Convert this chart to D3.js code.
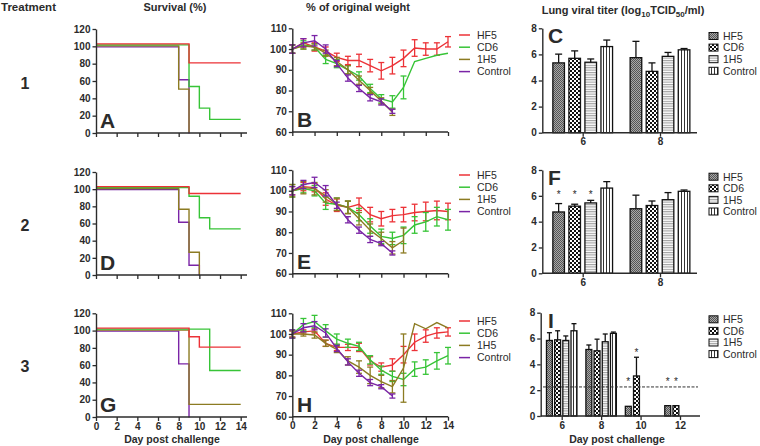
<!DOCTYPE html>
<html><head><meta charset="utf-8">
<script src="https://cdn.jsdelivr.net/npm/d3@7"></script>
<style>body{margin:0;background:#fff}svg{font-family:"Liberation Sans",Arial,sans-serif}</style>
</head><body>
<svg id="c" width="760" height="446"></svg>
<script>
// ---------------- DATA ----------------
const groups = ["HF5", "CD6", "1H5", "Control"];
const colors = ["#ec3237", "#37c437", "#8c7b22", "#7a24a6"];
const dayTicks = [0, 2, 4, 6, 8, 10, 12, 14];
const survTicks = [0, 20, 40, 60, 80, 100, 120];
const weightTicks = [60, 70, 80, 90, 100, 110];
const titerTicks = [0, 2, 4, 6, 8];

// Survival (%) step points [day, %] per group (HF5, CD6, 1H5, Control)
const survA = [
  [[0,100],[9,78],[14,78]],
  [[0,100],[9,52],[10,27],[11,14],[14,14]],
  [[0,100],[8,50],[9,0]],
  [[0,100],[8,62],[9,0]]
];
const survD = [
  [[0,100],[9,92],[14,92]],
  [[0,100],[9,90],[10,65],[11,52],[14,52]],
  [[0,100],[8,76],[9,26],[10,0]],
  [[0,100],[8,62],[9,12],[10,0]]
];
const survG = [
  [[0,100],[9,90],[10,78],[14,78]],
  [[0,100],[11,52],[14,52]],
  [[0,100],[9,14],[14,14]],
  [[0,100],[8,62],[9,0]]
];

// % of original weight, mean per day (index = day) and SD
const weightB = [
  [100,103,101,99,96,94.5,94.5,92,89.5,92,95.5,100.5,100,100,103.5],
  [100,102,101,95,93,90,87,81,76,74.5,81.5,94,95.5,97,98],
  [100,101.5,101,98,94,90,85,80,75,69.5],
  [100,103,104,100,93,86,81,76.5,74.5,70]
];
const weightB_sd = [
  [2,2,2,2,2,2,3,3,4,4,4,4,3,3,2.5],
  [2,2,1.5,2,2,2,2,2,2,3,5.5,0,0,0,0],
  [2,1.5,1.5,1.5,2,2,2,1.5,1.5,1.5],
  [2,2,2.5,2,1.5,1.5,1.5,1.5,1.5,1]
];
const weightE = [
  [100,102,101.5,96,93,92,93.5,88.5,86.5,88,88.5,89.5,90,90.5,90],
  [100,101,100,94,93.5,92,88.5,83,78,77,78.5,83.5,85,87.5,86],
  [100,101.5,101,97.5,93.5,92,86.5,81,77,72.5,76],
  [100,103,104,100,93,86,81,76.5,74.5,70]
];
const weightE_sd = [
  [2,2,2,3,3,3,3,3.5,3.5,3,3.5,4,4.5,4.5,4],
  [3,2,2.5,3,3,3,3,3.5,3.5,3,4,4,4.5,4.5,5],
  [3,3,3,3,3,3,3,3,3,3,6],
  [2,2,2.5,2.5,1.5,1.5,1.5,1.5,1,1]
];
const weightH = [
  [100,101,101.5,95.5,93.5,93.5,93.5,87,84,85,90,96,99,100.5,101],
  [100,104.5,106,101.5,97.5,95.5,94,87.5,82.5,79.5,78,83,84,87,89.5],
  [100,100,99.5,95.5,92.5,87,84,80,77,74.5,83.5,105,102.5,105.5,103],
  [100,103,104,100.5,93,86.5,81,76.5,74.5,70]
];
const weightH_sd = [
  [1.5,1,1,1.5,1.5,1.5,2,2,2,3,4,4,3,2.5,2],
  [2,3,3,3,2.5,2,2,2,2,2.5,3,3.5,3.5,4,4],
  [1.5,1,1.5,1.5,1.5,2,3,4,3,3,16.5,0,0,0,0],
  [2,2,2,2,1.5,1.5,1.5,1.5,1,1]
];

// Lung viral titer (log10 TCID50/ml): per group, per sampled day
const titerDaysCF = [6, 8];
const titerC = [[5.35,5.75],[5.7,4.7],[5.4,5.85],[6.6,6.35]];
const titerC_sd = [[0.67,1.25],[0.57,0.65],[0.25,0.3],[0.5,0.1]];
const titerF = [[4.75,5.0],[5.2,5.25],[5.45,5.7],[6.6,6.35]];
const titerF_sd = [[0.65,1.05],[0.15,0.35],[0.2,0.55],[0.5,0.1]];
const titerDaysI = [6, 8, 10, 12];
const titerI = [[5.85,5.15,0.75,0.8],[5.9,5.05,3.1,0.8],[5.85,5.75,null,null],[6.6,6.4,null,null]];
const titerI_sd = [[0.6,0.35,0,0],[0.7,0.9,1.45,0],[0.35,0.6,0,0],[0.55,0.1,0,0]];
const titerTicksI = [6, 8, 10, 12];
const starsF = [[6,0,6.2],[6,1,6.2],[6,2,6.2]];          // [day, group, y]
const starsI = [[10,0,2.75],[10,1,5.05],[12,0,2.75],[12,1,2.75]];
const detectionLimit = 2.25;

// ---------------- DRAWING ----------------
const svg = d3.select("#c");
const ink = "#2b2b2b";
const txt = (s, x, y, size, opts = {}) => svg.append("text").attr("x", x).attr("y", y)
  .attr("font-size", size).attr("font-weight", opts.w || "bold").attr("fill", opts.fill || ink)
  .attr("text-anchor", opts.a || "start").text(s);

// headers
txt("Treatment", 1, 11, 11.5);
txt("Survival (%)", 175, 11, 11, {a: "middle"});
txt("% of original weight", 358, 11, 11, {a: "middle"});
const lt = svg.append("text").attr("x", 623).attr("y", 14).attr("font-size", 11)
  .attr("font-weight", "bold").attr("fill", ink).attr("text-anchor", "middle");
lt.append("tspan").text("Lung viral titer (log");
lt.append("tspan").attr("font-size", 8).attr("dy", 3).text("10");
lt.append("tspan").attr("dy", -3).text("TCID");
lt.append("tspan").attr("font-size", 8).attr("dy", 3).text("50");
lt.append("tspan").attr("dy", -3).text("/ml)");
[["1", 89], ["2", 231], ["3", 372]].forEach(([s, y]) => txt(s, 25, y, 16, {a: "middle"}));

function styleAxis(g) {
  g.selectAll("path.domain").attr("stroke", ink).attr("stroke-width", 1.4);
  g.selectAll(".tick line").attr("stroke", ink).attr("stroke-width", 1.3);
  g.selectAll(".tick text").attr("font-size", 10).attr("font-weight", "bold")
    .attr("fill", ink).attr("font-family", "Liberation Sans, Arial, sans-serif");
}
function yAxis(y, x0, ticks) {
  const g = svg.append("g").attr("transform", `translate(${x0},0)`)
    .call(d3.axisLeft(y).tickValues(ticks).tickSize(3.5).tickPadding(2).tickSizeOuter(0));
  styleAxis(g);
}
function xAxis(x, y0, ticks, labels, xStart, xEnd) {
  const g = svg.append("g").attr("transform", `translate(0,${y0})`)
    .call(d3.axisBottom(x).tickValues(ticks).tickSize(4).tickPadding(1.5).tickSizeOuter(0)
      .tickFormat(labels ? d3.format("d") : () => ""));
  styleAxis(g);
  g.select("path.domain").remove();
  g.append("line").attr("x1", xStart).attr("x2", xEnd).attr("y1", 0).attr("y2", 0)
    .attr("stroke", ink).attr("stroke-width", 1.4);
}

// ---- survival ----
const survOffset = [-2.5, -1.5, -0.5, 0.5];
function survival(data, top, bot, labels, letter) {
  const x = d3.scaleLinear([0, 14], [96, 240.7]);
  const y = d3.scaleLinear([0, 120], [bot, top]);
  [3, 2, 1, 0].forEach(i => {
    svg.append("path").datum(data[i]).attr("fill", "none").attr("stroke", colors[i])
      .attr("stroke-width", 1.4)
      .attr("d", d3.line().x(d => x(d[0])).y(d => y(d[1]) + survOffset[i]).curve(d3.curveStepAfter));
  });
  yAxis(y, 96, survTicks);
  xAxis(x, bot, dayTicks, labels, 96, 247);
  txt(letter, 100, bot - 5, 21);
  if (labels) txt("Day post challenge", 172, 442.5, 10.5, {a: "middle"});
}
survival(survA, 29, 133, false, "A");
survival(survD, 172, 275, false, "D");
survival(survG, 313.3, 417, true, "G");

// ---- weight ----
function weight(means, sds, top, bot, labels, letter, legTop) {
  const x = d3.scaleLinear([0, 14], [292.3, 448]);
  const y = d3.scaleLinear([60, 110], [bot, top]);
  [0, 1, 2, 3].forEach(i => {
    const c = colors[i];
    const pts = means[i].map((m, d) => ({d, m, s: sds[i][d]}));
    svg.append("path").datum(pts).attr("fill", "none").attr("stroke", c).attr("stroke-width", 1.4)
      .attr("d", d3.line().x(p => x(p.d)).y(p => y(p.m)));
    const eb = svg.append("g").attr("stroke", c).attr("stroke-width", 1.3);
    pts.filter(p => p.s > 0).forEach(p => {
      eb.append("line").attr("x1", x(p.d)).attr("x2", x(p.d)).attr("y1", y(p.m - p.s)).attr("y2", y(p.m + p.s));
      [p.m - p.s, p.m + p.s].forEach(v => eb.append("line").attr("x1", x(p.d) - 3).attr("x2", x(p.d) + 3)
        .attr("y1", y(v)).attr("y2", y(v)));
    });
  });
  yAxis(y, 292.3, weightTicks);
  xAxis(x, bot, dayTicks, labels, 292.3, 448);
  txt(letter, 297, bot - 5, 21);
  if (labels) txt("Day post challenge", 371, 442.5, 10.5, {a: "middle"});
  groups.forEach((gname, i) => {
    const yy = legTop + i * 12.2;
    svg.append("line").attr("x1", 459).attr("x2", 470).attr("y1", yy).attr("y2", yy)
      .attr("stroke", colors[i]).attr("stroke-width", 1.5);
    txt(gname, 477, yy + 3.8, 10.5, {w: "normal"});
  });
}
weight(weightB, weightB_sd, 28.3, 132, false, "B", 35);
weight(weightE, weightE_sd, 170, 273.7, false, "E", 175);
weight(weightH, weightH_sd, 313.3, 416.7, true, "H", 321);

// ---- patterns ----
const defs = svg.append("defs");
let p = defs.append("pattern").attr("id", "p0").attr("patternUnits", "userSpaceOnUse").attr("width", 2).attr("height", 2);
p.append("rect").attr("width", 2).attr("height", 2).attr("fill", "#a8a8a8");
p.append("rect").attr("width", 1).attr("height", 1).attr("fill", "#555");
p.append("rect").attr("x", 1).attr("y", 1).attr("width", 1).attr("height", 1).attr("fill", "#555");
p = defs.append("pattern").attr("id", "p1").attr("patternUnits", "userSpaceOnUse").attr("width", 4).attr("height", 4);
p.append("rect").attr("width", 4).attr("height", 4).attr("fill", "#fff");
p.append("rect").attr("width", 2).attr("height", 2).attr("fill", "#111");
p.append("rect").attr("x", 2).attr("y", 2).attr("width", 2).attr("height", 2).attr("fill", "#111");
p = defs.append("pattern").attr("id", "p2").attr("patternUnits", "userSpaceOnUse").attr("width", 4).attr("height", 2.4);
p.append("rect").attr("width", 4).attr("height", 2.4).attr("fill", "#fff");
p.append("rect").attr("width", 4).attr("height", 1.1).attr("fill", "#a0a0a0");
p = defs.append("pattern").attr("id", "p3").attr("patternUnits", "userSpaceOnUse").attr("width", 3).attr("height", 4);
p.append("rect").attr("width", 3).attr("height", 4).attr("fill", "#fff");
p.append("rect").attr("width", 1).attr("height", 4).attr("fill", "#333");

// ---- titer bars ----
const barStep = 0.415, barW = 0.3;
function titer(days, vals, sds, x, axisX, axisEnd, top, bot, ticks, letter, legTop, capW, stars) {
  const y = d3.scaleLinear([0, 8], [bot, top]);
  const unit = x(1) - x(0);
  vals.forEach((row, gi) => {
    row.forEach((v, di) => {
      if (v == null) return;
      const cx = x(days[di] + (gi - 1.5) * barStep);
      svg.append("rect").attr("x", cx - barW * unit / 2).attr("width", barW * unit)
        .attr("y", y(v)).attr("height", y(0) - y(v))
        .attr("fill", `url(#p${gi})`).attr("stroke", "#111").attr("stroke-width", 1.3);
      const s = sds[gi][di];
      if (s > 0) {
        svg.append("line").attr("x1", cx).attr("x2", cx).attr("y1", y(v)).attr("y2", y(v + s))
          .attr("stroke", "#111").attr("stroke-width", 1.3);
        svg.append("line").attr("x1", cx - capW / 2).attr("x2", cx + capW / 2).attr("y1", y(v + s)).attr("y2", y(v + s))
          .attr("stroke", "#111").attr("stroke-width", 1.3);
      }
    });
  });
  (stars || []).forEach(([d, gi, v]) => {
    txt("*", x(d + (gi - 1.5) * barStep), y(v) + 5, 10, {a: "middle", w: "normal"});
  });
  yAxis(y, axisX, titerTicks);
  xAxis(x, bot, ticks, true, axisX, axisEnd);
  txt(letter, 548, top + 15, 21);
  groups.forEach((gname, i) => {
    const yy = legTop + i * 11.6;
    svg.append("rect").attr("x", 709).attr("y", yy - 3.5).attr("width", 9).attr("height", 7)
      .attr("fill", `url(#p${i})`).attr("stroke", "#111").attr("stroke-width", 1);
    txt(gname, 723, yy + 3.8, 10.5, {w: "normal"});
  });
  return y;
}
const xCF = d3.scaleLinear([6, 8], [582.7, 660]);
titer(titerDaysCF, titerC, titerC_sd, xCF, 542.3, 697, 28.3, 132.7, titerDaysCF, "C", 36, 7, null);
titer(titerDaysCF, titerF, titerF_sd, xCF, 542.3, 697, 170, 273.3, titerDaysCF, "F", 176.7, 7, starsF);
const xI = d3.scaleLinear([6, 12], [561.7, 680]);
const yI = titer(titerDaysI, titerI, titerI_sd, xI, 540.7, 700, 312.7, 416, titerTicksI, "I", 319.3, 5, starsI);
svg.append("line").attr("x1", 543).attr("x2", 698).attr("y1", yI(detectionLimit)).attr("y2", yI(detectionLimit))
  .attr("stroke", "#333").attr("stroke-width", 1).attr("stroke-dasharray", "3,1.5");
txt("Day post challenge", 617, 442.5, 10.5, {a: "middle"});
</script>
</body></html>
